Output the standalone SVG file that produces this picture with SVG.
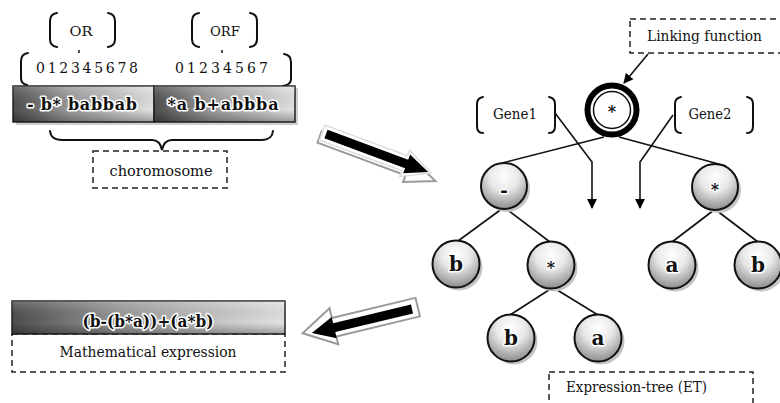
<svg xmlns="http://www.w3.org/2000/svg" width="780" height="403" viewBox="0 0 780 403">
  <defs>
    <linearGradient id="barGrad" x1="0" y1="0" x2="1" y2="0">
      <stop offset="0" stop-color="#4e4e4e"/>
      <stop offset="0.4" stop-color="#9c9c9c"/>
      <stop offset="1" stop-color="#e4e4e4"/>
    </linearGradient>
    <linearGradient id="barShade" x1="0" y1="0" x2="0" y2="1">
      <stop offset="0" stop-color="#ffffff" stop-opacity="0.2"/>
      <stop offset="0.65" stop-color="#000000" stop-opacity="0"/>
      <stop offset="1" stop-color="#000000" stop-opacity="0.3"/>
    </linearGradient>
    <radialGradient id="nodeGrad" cx="0.5" cy="0.28" r="0.8">
      <stop offset="0" stop-color="#ffffff"/>
      <stop offset="0.4" stop-color="#e8e8e8"/>
      <stop offset="1" stop-color="#7a7a7a"/>
    </radialGradient>
    <marker id="head" viewBox="0 0 10 10" refX="9" refY="5" markerWidth="10" markerHeight="10" markerUnits="userSpaceOnUse" orient="auto">
      <path d="M0,0 L10,5 L0,10 Z" fill="#000"/>
    </marker>
    <style>
      text { font-family: 'DejaVu Serif', 'Liberation Serif', serif; fill: #111; }
      .halo { font-weight: bold; stroke: #ffffff; stroke-width: 3; stroke-linejoin: round; paint-order: stroke; fill: #111; }
      .brk { fill: none; stroke: #111; stroke-width: 2; stroke-linecap: round; }
      .dash { fill: none; stroke: #222; stroke-width: 1.5; stroke-dasharray: 6 4; }
      .edge { fill: none; stroke: #111; stroke-width: 1.6; }
      .node { fill: url(#nodeGrad); stroke: #111; stroke-width: 2; }
      .shadow { fill: #c4c4c4; }
      .cell { fill: url(#barGrad); stroke: #222; stroke-width: 1.5; }
      .shade { fill: url(#barShade); }
    </style>
  </defs>

  <rect width="780" height="403" fill="#ffffff"/>

  <!-- region labels OR / ORF -->
  <g id="or-label">
    <path class="brk" d="M57,13 Q50,14 50,21 V39 Q50,46 57,47"/>
    <path class="brk" d="M108,13 Q115,14 115,21 V39 Q115,46 108,47"/>
    <text x="81" y="36" font-size="13" text-anchor="middle" textLength="23" lengthAdjust="spacingAndGlyphs">OR</text>
    <line x1="79" y1="50" x2="79" y2="53" stroke="#111" stroke-width="1.5"/>
  </g>
  <g id="orf-label">
    <path class="brk" d="M199,13 Q192,14 192,21 V39 Q192,46 199,47"/>
    <path class="brk" d="M250,13 Q257,14 257,21 V39 Q257,46 250,47"/>
    <text x="225" y="36" font-size="13" text-anchor="middle" textLength="30" lengthAdjust="spacingAndGlyphs">ORF</text>
    <line x1="222" y1="50" x2="222" y2="53" stroke="#111" stroke-width="1.5"/>
  </g>

  <!-- position indices -->
  <g id="indices">
    <path class="brk" d="M28,53 Q21,54 21,61 V78 Q21,84 27,85"/>
    <path class="brk" d="M284,54 Q291,55 291,62 V79 Q291,85 283,86"/>
    <text x="36" y="73" font-size="14" textLength="102" lengthAdjust="spacing">012345678</text>
    <text x="175" y="73" font-size="14" textLength="93" lengthAdjust="spacing">01234567</text>
  </g>

  <!-- chromosome string -->
  <g id="chromosome-bar">
    <rect x="16" y="88" width="282" height="37" fill="#cfcfcf"/>
    <rect class="cell" x="13" y="86" width="141" height="36"/>
    <rect class="shade" x="13" y="86" width="141" height="36"/>
    <rect class="cell" x="154" y="86" width="141" height="36"/>
    <rect class="shade" x="154" y="86" width="141" height="36"/>
    <text class="halo" x="82" y="110" font-size="16" text-anchor="middle" textLength="110" lengthAdjust="spacing">- b* babbab</text>
    <text class="halo" x="223" y="110" font-size="16" text-anchor="middle" textLength="111" lengthAdjust="spacing">*a b+abbba</text>
  </g>

  <g id="chromosome-label">
    <path class="brk" d="M50,131 Q51,140 62,140 H152 Q160,140 162,150 Q164,140 172,140 H262 Q272,140 273,131"/>
    <rect class="dash" x="93" y="151" width="134" height="37"/>
    <text x="161" y="176" font-size="14" text-anchor="middle" textLength="103" lengthAdjust="spacingAndGlyphs">choromosome</text>
  </g>

  <!-- block arrows -->
  <g id="arrow-right" transform="translate(326,134) rotate(20.4)">
    <path d="M-5,-1 L89,-1 L89,-7 L119,6 L89,18 L89,11 L-5,11 Z" fill="#ffffff" stroke="#9a9a9a" stroke-width="2"/>
    <path d="M-4,-8 L84,-8 L84,-14 L112,0 L84,14 L84,8 L-4,8 Z" fill="#ffffff" stroke="#dddddd" stroke-width="1.5"/>
    <path d="M0,-4.5 L86,-4.5 L86,-10 L109,0 L86,10 L86,4.5 L0,4.5 Z" fill="#000"/>
  </g>
  <g id="arrow-left" transform="translate(412,309) rotate(166.5)">
    <path d="M-6,-9 L80,-9 L80,-17 L112,2 L80,20 L80,10 L-6,10 Z" fill="#ffffff" stroke="#9a9a9a" stroke-width="2"/>
    <path d="M0,-4.5 L80,-4.5 L80,-11 L103,0 L80,11 L80,4.5 L0,4.5 Z" fill="#000"/>
  </g>

  <!-- mathematical expression -->
  <g id="math-expression">
    <rect class="dash" x="12" y="334" width="273" height="38"/>
    <rect class="cell" x="12" y="301" width="273" height="33"/>
    <rect class="shade" x="12" y="301" width="273" height="33"/>
    <text class="halo" x="148" y="327" font-size="16" text-anchor="middle" font-weight="normal" textLength="131" lengthAdjust="spacingAndGlyphs">(b-(b*a))+(a*b)</text>
    <text x="148" y="357" font-size="14" text-anchor="middle" textLength="177" lengthAdjust="spacingAndGlyphs">Mathematical expression</text>
  </g>

  <!-- labels on the tree -->
  <g id="linking-function">
    <rect class="dash" x="630" y="19" width="160" height="34"/>
    <text x="647" y="41" font-size="14" textLength="115" lengthAdjust="spacingAndGlyphs">Linking function</text>
  </g>
  <g id="gene1-label">
    <path class="brk" d="M483,97 Q477,98 477,104 V126 Q477,133 483,133"/>
    <path class="brk" d="M549,97 Q555,98 555,104 V126 Q555,133 549,133"/>
    <text x="515" y="119" font-size="14" text-anchor="middle" textLength="44" lengthAdjust="spacingAndGlyphs">Gene1</text>
  </g>
  <g id="gene2-label">
    <path class="brk" d="M681,97 Q675,98 675,104 V126 Q675,133 681,133"/>
    <path class="brk" d="M747,97 Q753,98 753,104 V126 Q753,133 747,133"/>
    <text x="710" y="119" font-size="14" text-anchor="middle" textLength="43" lengthAdjust="spacingAndGlyphs">Gene2</text>
  </g>
  <g id="et-label">
    <rect class="dash" x="549" y="372" width="204" height="40"/>
    <text x="566" y="392" font-size="14" textLength="141" lengthAdjust="spacingAndGlyphs">Expression-tree (ET)</text>
  </g>

  <!-- connectors -->
  <g id="connectors">
    <line class="edge" x1="604" y1="137" x2="502" y2="163"/>
    <line class="edge" x1="619" y1="137" x2="726" y2="166"/>
    <line class="edge" x1="503" y1="208" x2="458" y2="241"/>
    <line class="edge" x1="505" y1="208" x2="550" y2="242"/>
    <line class="edge" x1="714" y1="210" x2="672" y2="242"/>
    <line class="edge" x1="716" y1="210" x2="758" y2="242"/>
    <line class="edge" x1="552" y1="288" x2="510" y2="315"/>
    <line class="edge" x1="554" y1="288" x2="598" y2="315"/>
    <path class="edge" d="M648,54 L624,83" marker-end="url(#head)"/>
    <path class="edge" d="M555,113 L592,162 L592,208" marker-end="url(#head)"/>
    <path class="edge" d="M673,115 L640,162 L640,208" marker-end="url(#head)"/>
  </g>

  <!-- expression tree nodes -->
  <g id="node-root">
    <circle cx="612" cy="110" r="24.5" fill="#ffffff" stroke="#000" stroke-width="6"/>
    <circle cx="612" cy="110" r="18.5" fill="#ffffff" stroke="#111" stroke-width="1.5"/>
    <text class="halo" x="612" y="117" font-size="16" text-anchor="middle">*</text>
  </g>
  <g id="node-minus">
    <circle class="shadow" cx="507" cy="189" r="23"/>
    <circle class="node" cx="504" cy="186" r="23"/>
    <text class="halo" x="504" y="197" font-size="19" text-anchor="middle">-</text>
  </g>
  <g id="node-times-right">
    <circle class="shadow" cx="718" cy="190" r="23"/>
    <circle class="node" cx="715" cy="187" r="23"/>
    <text class="halo" x="715" y="195" font-size="16" text-anchor="middle">*</text>
  </g>
  <g id="node-b1">
    <circle class="shadow" cx="459" cy="267" r="23.5"/>
    <circle class="node" cx="456" cy="264" r="23.5"/>
    <text class="halo" x="456" y="271" font-size="20" text-anchor="middle">b</text>
  </g>
  <g id="node-times-left">
    <circle class="shadow" cx="554" cy="268" r="23.5"/>
    <circle class="node" cx="551" cy="265" r="23.5"/>
    <text class="halo" x="551" y="273" font-size="16" text-anchor="middle">*</text>
  </g>
  <g id="node-a1">
    <circle class="shadow" cx="675" cy="268" r="23.5"/>
    <circle class="node" cx="672" cy="265" r="23.5"/>
    <text class="halo" x="672" y="272" font-size="20" text-anchor="middle">a</text>
  </g>
  <g id="node-b2">
    <circle class="shadow" cx="761" cy="268" r="23.5"/>
    <circle class="node" cx="758" cy="265" r="23.5"/>
    <text class="halo" x="758" y="272" font-size="20" text-anchor="middle">b</text>
  </g>
  <g id="node-b3">
    <circle class="shadow" cx="514" cy="341" r="23.5"/>
    <circle class="node" cx="511" cy="338" r="23.5"/>
    <text class="halo" x="511" y="345" font-size="20" text-anchor="middle">b</text>
  </g>
  <g id="node-a2">
    <circle class="shadow" cx="601" cy="341" r="23.5"/>
    <circle class="node" cx="598" cy="338" r="23.5"/>
    <text class="halo" x="598" y="345" font-size="20" text-anchor="middle">a</text>
  </g>
</svg>
